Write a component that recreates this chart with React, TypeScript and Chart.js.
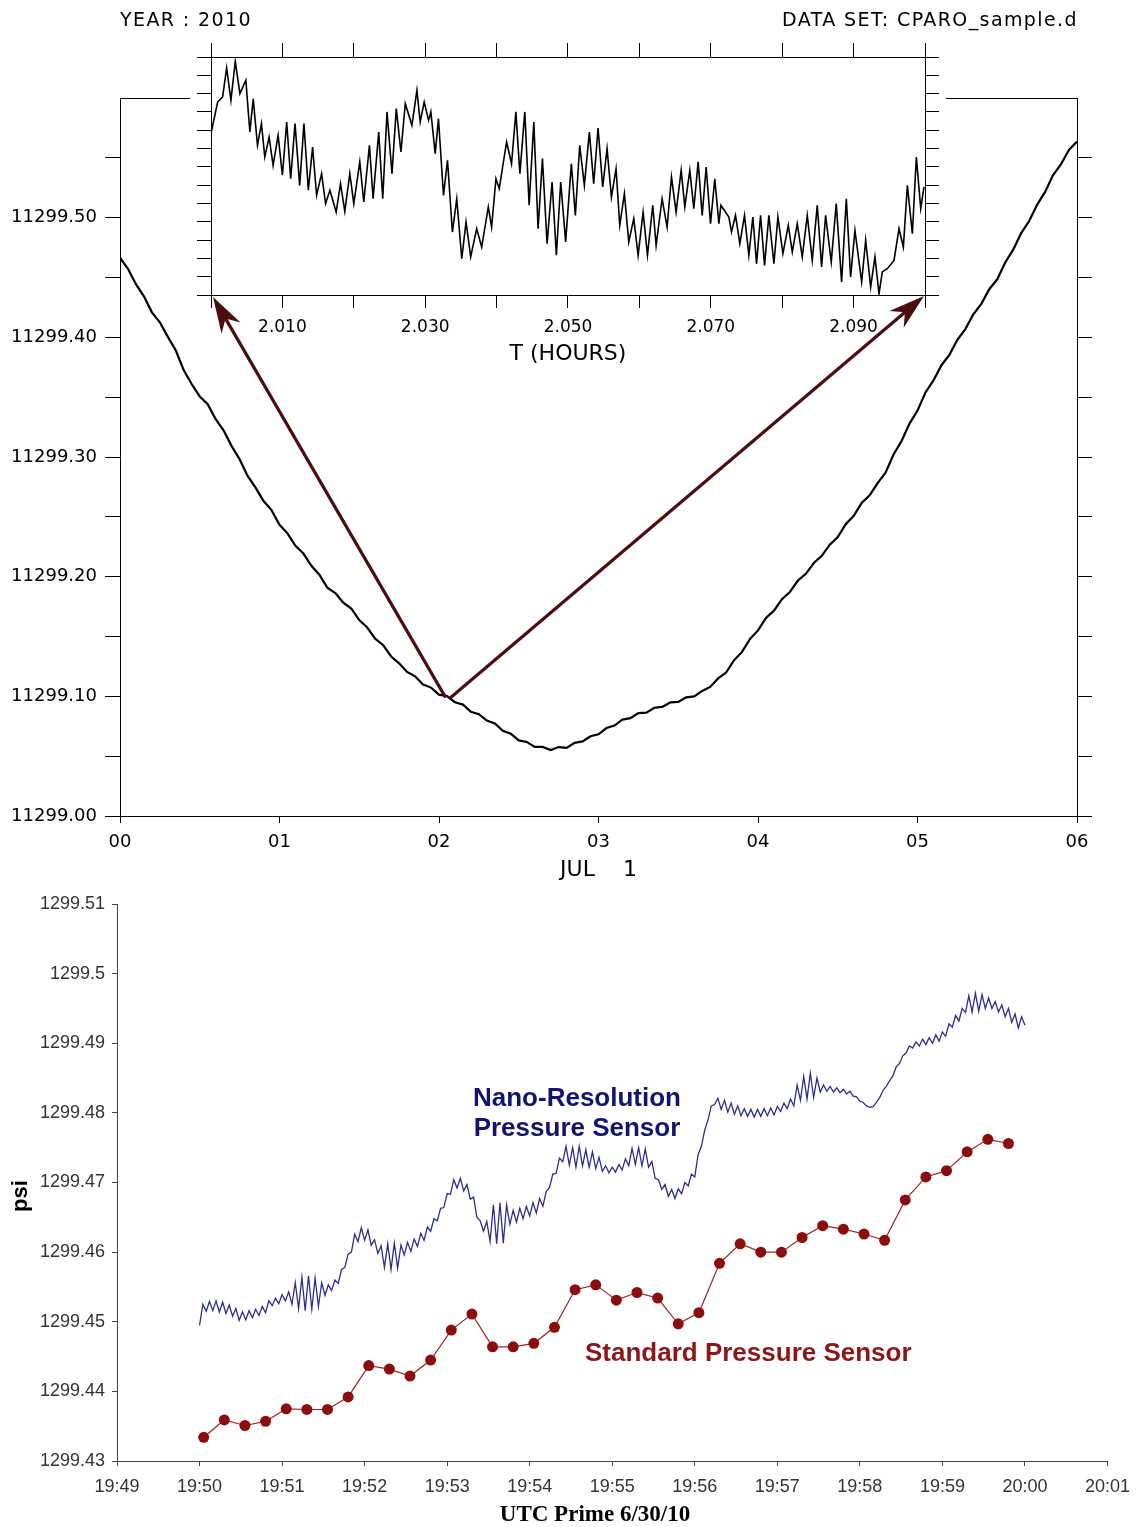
import React, { useEffect, useRef } from 'react';
import { Chart, registerables } from 'chart.js';

Chart.register(...registerables);

// ---------------- Top chart: pressure over 6 hours (JUL 1) ----------------
const MAIN_START_HOUR = 0;
const MAIN_STEP_HOURS = 0.05;
const mainValues = [
  11299.4665, 11299.4573, 11299.4444, 11299.4343, 11299.4209, 11299.4126, 11299.4004, 11299.3890, 11299.3724, 11299.3608,
  11299.3506, 11299.3441, 11299.3316, 11299.3221, 11299.3091, 11299.2982, 11299.2842, 11299.2744, 11299.2632, 11299.2556,
  11299.2434, 11299.2362, 11299.2258, 11299.2193, 11299.2091, 11299.2016, 11299.1908, 11299.1863, 11299.1783, 11299.1734,
  11299.1637, 11299.1575, 11299.1482, 11299.1427, 11299.1333, 11299.1276, 11299.1204, 11299.1167, 11299.1099, 11299.1073,
  11299.1014, 11299.1002, 11299.0951, 11299.0931, 11299.0871, 11299.0851, 11299.0798, 11299.0773, 11299.0712, 11299.0688,
  11299.0632, 11299.0619, 11299.0578, 11299.0577, 11299.0551, 11299.0576, 11299.0569, 11299.0611, 11299.0623, 11299.0666,
  11299.0683, 11299.0735, 11299.0756, 11299.0806, 11299.0818, 11299.0860, 11299.0864, 11299.0905, 11299.0912, 11299.0949,
  11299.0953, 11299.0992, 11299.0999, 11299.1045, 11299.1079, 11299.1150, 11299.1199, 11299.1302, 11299.1371, 11299.1480,
  11299.1551, 11299.1655, 11299.1716, 11299.1812, 11299.1872, 11299.1967, 11299.2024, 11299.2114, 11299.2174, 11299.2267,
  11299.2331, 11299.2439, 11299.2509, 11299.2616, 11299.2679, 11299.2782, 11299.2870, 11299.3021, 11299.3134, 11299.3279,
  11299.3388, 11299.3539, 11299.3640, 11299.3767, 11299.3854, 11299.3980, 11299.4069, 11299.4193, 11299.4280, 11299.4402,
  11299.4485, 11299.4626, 11299.4733, 11299.4871, 11299.4972, 11299.5108, 11299.5215, 11299.5356, 11299.5448, 11299.5567,
  11299.5636,
];
const mainHourLabels = ['00', '01', '02', '03', '04', '05', '06'];
const mainYTickLabels = ['11299.00', '', '11299.10', '', '11299.20', '', '11299.30', '', '11299.40', '', '11299.50', '', ''];
const MAIN_Y_MIN = 11299.0;
const MAIN_Y_MAX = 11299.6;
const MAIN_Y_STEP = 0.05;
const ARROW_ORIGIN_HOUR = 2.05;
const ARROW_ORIGIN_VALUE = 11299.1;

// ---------------- Inset: zoom 2.000 - 2.100 hours ----------------
const insetHours = [
  2.00000, 2.00093, 2.00163, 2.00219, 2.00279, 2.00340, 2.00405, 2.00488, 2.00544, 2.00591,
  2.00651, 2.00707, 2.00753, 2.00814, 2.00870, 2.00940, 2.01000, 2.01060, 2.01116, 2.01177,
  2.01242, 2.01302, 2.01363, 2.01423, 2.01479, 2.01549, 2.01605, 2.01665, 2.01753, 2.01814,
  2.01874, 2.01944, 2.02000, 2.02084, 2.02140, 2.02219, 2.02270, 2.02349, 2.02405, 2.02465,
  2.02535, 2.02595, 2.02660, 2.02721, 2.02814, 2.02884, 2.02930, 2.02986, 2.03047, 2.03079,
  2.03140, 2.03186, 2.03256, 2.03312, 2.03381, 2.03442, 2.03512, 2.03572, 2.03637, 2.03721,
  2.03791, 2.03884, 2.03930, 2.03991, 2.04037, 2.04140, 2.04209, 2.04270, 2.04326, 2.04395,
  2.04456, 2.04521, 2.04581, 2.04642, 2.04707, 2.04777, 2.04837, 2.04898, 2.04967,
  2.05047, 2.05103, 2.05164, 2.05229, 2.05299, 2.05360, 2.05421, 2.05486, 2.05547, 2.05608,
  2.05673, 2.05725, 2.05790, 2.05851, 2.05921, 2.05982, 2.06052, 2.06113, 2.06187, 2.06234,
  2.06318, 2.06388, 2.06449, 2.06514, 2.06585, 2.06636, 2.06706, 2.06762, 2.06823, 2.06879,
  2.06935, 2.06996, 2.07056, 2.07113, 2.07141, 2.07253, 2.07290, 2.07346, 2.07407, 2.07472,
  2.07533, 2.07589, 2.07641, 2.07697, 2.07753, 2.07813, 2.07884, 2.07940, 2.08010, 2.08085,
  2.08141, 2.08211, 2.08281, 2.08351, 2.08421, 2.08491, 2.08552, 2.08608, 2.08687, 2.08757,
  2.08832, 2.08898, 2.08958, 2.09019, 2.09113, 2.09169, 2.09239, 2.09299, 2.09356, 2.09402,
  2.09472, 2.09566, 2.09636, 2.09697, 2.09753, 2.09823, 2.09879, 2.09940, 2.09986,
];
const insetValues = [
  11299.10381, 11299.10554, 11299.10582, 11299.10740, 11299.10563, 11299.10776, 11299.10600, 11299.10673, 11299.10390, 11299.10572,
  11299.10318, 11299.10436, 11299.10254, 11299.10363, 11299.10208, 11299.10372, 11299.10154, 11299.10445, 11299.10135, 11299.10436,
  11299.10099, 11299.10436, 11299.10072, 11299.10308, 11299.10044, 11299.10163, 11299.09999, 11299.10072, 11299.09953, 11299.10108,
  11299.09957, 11299.10163, 11299.09999, 11299.10227, 11299.10008, 11299.10318, 11299.10026, 11299.10390, 11299.10026, 11299.10500,
  11299.10163, 11299.10518, 11299.10281, 11299.10545, 11299.10427, 11299.10618, 11299.10445, 11299.10554, 11299.10454, 11299.10500,
  11299.10272, 11299.10463, 11299.10044, 11299.10236, 11299.09844, 11299.10026, 11299.09699, 11299.09899, 11299.09708, 11299.09862,
  11299.09762, 11299.09981, 11299.09871, 11299.10135, 11299.10081, 11299.10336, 11299.10217, 11299.10500, 11299.10163, 11299.10500,
  11299.09990, 11299.10445, 11299.09862, 11299.10245, 11299.09780, 11299.10117, 11299.09717, 11299.10117, 11299.09790,
  11299.10217, 11299.09935, 11299.10318, 11299.10099, 11299.10390, 11299.10108, 11299.10412, 11299.10090, 11299.10299, 11299.10035,
  11299.10190, 11299.09881, 11299.10054, 11299.09790, 11299.09917, 11299.09717, 11299.09953, 11299.09717, 11299.09990, 11299.09771,
  11299.10026, 11299.09871, 11299.10145, 11299.09953, 11299.10181, 11299.09981, 11299.10181, 11299.09972, 11299.10227, 11299.09935,
  11299.10199, 11299.09890, 11299.10135, 11299.09890, 11299.09990, 11299.09926, 11299.09844, 11299.09935, 11299.09780, 11299.09935,
  11299.09717, 11299.09926, 11299.09671, 11299.09935, 11299.09662, 11299.09935, 11299.09671, 11299.09926, 11299.09726, 11299.09881,
  11299.09735, 11299.09890, 11299.09708, 11299.09935, 11299.09689, 11299.09990, 11299.09653, 11299.09935, 11299.09680, 11299.09999,
  11299.09571, 11299.10026, 11299.09598, 11299.09853, 11299.09571, 11299.09799, 11299.09544, 11299.09708, 11299.09507, 11299.09626,
  11299.09644, 11299.09689, 11299.09862, 11299.09762, 11299.10099, 11299.09835, 11299.10254, 11299.09972, 11299.10090,
];
const insetXTickLabels = ['', '2.010', '', '2.030', '', '2.050', '', '2.070', '', '2.090', ''];
const INSET_X_MIN = 2.0;
const INSET_X_MAX = 2.1;
const INSET_X_STEP = 0.01;
const INSET_Y_MIN = 11299.095;
const INSET_Y_MAX = 11299.108;
const INSET_Y_STEP = 0.001;

// ---------------- Bottom chart: 19:50 - 20:00 UTC ----------------
const NANO_START_MINUTE = 50; // minutes after 19:00
const NANO_STEP_MINUTES = 0.04;
const nanoValues = [
  1299.4495, 1299.4525, 1299.4515, 1299.4529, 1299.4516, 1299.4530, 1299.4514, 1299.4528, 1299.4512, 1299.4524,
  1299.4508, 1299.4519, 1299.4502, 1299.4514, 1299.4503, 1299.4516, 1299.4506, 1299.4518, 1299.4509, 1299.4522,
  1299.4513, 1299.4530, 1299.4523, 1299.4534, 1299.4526, 1299.4539, 1299.4530, 1299.4543, 1299.4525, 1299.4556,
  1299.4519, 1299.4564, 1299.4516, 1299.4566, 1299.4518, 1299.4563, 1299.4522, 1299.4556, 1299.4538, 1299.4553,
  1299.4545, 1299.4560, 1299.4555, 1299.4575, 1299.4578, 1299.4597, 1299.4600, 1299.4626, 1299.4615, 1299.4635,
  1299.4617, 1299.4632, 1299.4610, 1299.4618, 1299.4598, 1299.4609, 1299.4578, 1299.4612, 1299.4575, 1299.4613,
  1299.4577, 1299.4610, 1299.4596, 1299.4614, 1299.4601, 1299.4619, 1299.4608, 1299.4627, 1299.4617, 1299.4636,
  1299.4630, 1299.4648, 1299.4645, 1299.4663, 1299.4664, 1299.4684, 1299.4683, 1299.4704, 1299.4692, 1299.4706,
  1299.4688, 1299.4697, 1299.4676, 1299.4679, 1299.4650, 1299.4645, 1299.4630, 1299.4644, 1299.4615, 1299.4668,
  1299.4612, 1299.4671, 1299.4613, 1299.4668, 1299.4640, 1299.4660, 1299.4643, 1299.4663, 1299.4648, 1299.4666,
  1299.4652, 1299.4671, 1299.4656, 1299.4677, 1299.4666, 1299.4687, 1299.4693, 1299.4712, 1299.4713, 1299.4735,
  1299.4730, 1299.4752, 1299.4725, 1299.4750, 1299.4722, 1299.4752, 1299.4724, 1299.4747, 1299.4722, 1299.4744,
  1299.4720, 1299.4736, 1299.4716, 1299.4724, 1299.4714, 1299.4722, 1299.4715, 1299.4726, 1299.4718, 1299.4734,
  1299.4724, 1299.4749, 1299.4726, 1299.4750, 1299.4724, 1299.4748, 1299.4722, 1299.4730, 1299.4706, 1299.4704,
  1299.4690, 1299.4697, 1299.4680, 1299.4690, 1299.4677, 1299.4691, 1299.4684, 1299.4700, 1299.4695, 1299.4712,
  1299.4708, 1299.4740, 1299.4752, 1299.4775, 1299.4790, 1299.4810, 1299.4812, 1299.4821, 1299.4805, 1299.4818,
  1299.4801, 1299.4814, 1299.4798, 1299.4810, 1299.4796, 1299.4806, 1299.4795, 1299.4805, 1299.4794, 1299.4805,
  1299.4795, 1299.4806, 1299.4796, 1299.4807, 1299.4797, 1299.4809, 1299.4802, 1299.4814, 1299.4806, 1299.4820,
  1299.4810, 1299.4840, 1299.4818, 1299.4852, 1299.4820, 1299.4857, 1299.4822, 1299.4850, 1299.4830, 1299.4840,
  1299.4831, 1299.4838, 1299.4830, 1299.4836, 1299.4829, 1299.4834, 1299.4827, 1299.4831, 1299.4824, 1299.4823,
  1299.4817, 1299.4815, 1299.4810, 1299.4808, 1299.4809, 1299.4815, 1299.4822, 1299.4832, 1299.4838, 1299.4846,
  1299.4853, 1299.4866, 1299.4871, 1299.4882, 1299.4886, 1299.4896, 1299.4893, 1299.4902, 1299.4896, 1299.4906,
  1299.4898, 1299.4908, 1299.4900, 1299.4912, 1299.4903, 1299.4916, 1299.4910, 1299.4928, 1299.4923, 1299.4940,
  1299.4932, 1299.4950, 1299.4944, 1299.4968, 1299.4945, 1299.4972, 1299.4946, 1299.4970, 1299.4950, 1299.4965,
  1299.4950, 1299.4960, 1299.4945, 1299.4955, 1299.4938, 1299.4950, 1299.4930, 1299.4942, 1299.4922, 1299.4938,
  1299.4926,
];
const STANDARD_START_MINUTE = 50.05;
const STANDARD_STEP_MINUTES = 0.25;
const standardValues = [
  1299.4334, 1299.4359, 1299.4351, 1299.4357, 1299.4375, 1299.4374, 1299.4374, 1299.4392, 1299.4437, 1299.4432,
  1299.4422, 1299.4445, 1299.4488, 1299.4511, 1299.4464, 1299.4464, 1299.4469, 1299.4492, 1299.4546, 1299.4553,
  1299.4531, 1299.4542, 1299.4534, 1299.4497, 1299.4513, 1299.4584, 1299.4612, 1299.4600, 1299.4600, 1299.4621,
  1299.4638, 1299.4633, 1299.4626, 1299.4617, 1299.4675, 1299.4708, 1299.4717, 1299.4744, 1299.4762, 1299.4756,
];
const bottomXTickLabels = ['19:49', '19:50', '19:51', '19:52', '19:53', '19:54', '19:55', '19:56', '19:57', '19:58', '19:59', '20:00', '20:01'];
const bottomYTickLabels = ['1299.43', '1299.44', '1299.45', '1299.46', '1299.47', '1299.48', '1299.49', '1299.5', '1299.51'];
const BOTTOM_X_MIN = 49;
const BOTTOM_X_MAX = 61;
const BOTTOM_Y_MIN = 1299.43;
const BOTTOM_Y_MAX = 1299.51;
const BOTTOM_Y_STEP = 0.01;

// ---------------- layout ----------------
const PAGE_W = 1140;
const MAIN_H = 890;
const INSET_LEFT = 190;
const INSET_TOP = 30;
const INSET_W = 756;
const INSET_H = 342;
const BOTTOM_TOP = 886;
const BOTTOM_H = 641;
const FERRET_FONT = 'DejaVu Sans';
const ARROW_COLOR = '#4a0e0e';

const idx = (v: number, min: number, step: number) => Math.round((v - min) / step);

function drawArrow(ctx: CanvasRenderingContext2D, x0: number, y0: number, x1: number, y1: number) {
  const dx = x1 - x0;
  const dy = y1 - y0;
  const len = Math.hypot(dx, dy);
  const ux = dx / len;
  const uy = dy / len;
  const nx = -uy;
  const ny = ux;
  const headLen = 36;
  const headHalf = 11;
  const notch = 25;
  ctx.save();
  ctx.strokeStyle = ARROW_COLOR;
  ctx.fillStyle = ARROW_COLOR;
  ctx.lineWidth = 3.2;
  ctx.lineCap = 'round';
  ctx.beginPath();
  ctx.moveTo(x0, y0);
  ctx.lineTo(x1 - ux * notch, y1 - uy * notch);
  ctx.stroke();
  ctx.beginPath();
  ctx.moveTo(x1, y1);
  ctx.lineTo(x1 - ux * headLen + nx * headHalf, y1 - uy * headLen + ny * headHalf);
  ctx.lineTo(x1 - ux * notch, y1 - uy * notch);
  ctx.lineTo(x1 - ux * headLen - nx * headHalf, y1 - uy * headLen - ny * headHalf);
  ctx.closePath();
  ctx.fill();
  ctx.restore();
}

export default function App() {
  const mainRef = useRef<HTMLCanvasElement>(null);
  const insetRef = useRef<HTMLCanvasElement>(null);
  const overlayRef = useRef<HTMLCanvasElement>(null);
  const bottomRef = useRef<HTMLCanvasElement>(null);

  useEffect(() => {
    const black = '#000';
    const hideMax = (max: number) => (ctx: any) =>
      ctx.tick && ctx.tick.value >= max - 1e-9 ? 'rgba(0,0,0,0)' : black;

    const mainData = mainValues.map((v, i) => ({ x: MAIN_START_HOUR + i * MAIN_STEP_HOURS, y: v }));
    const main = new Chart(mainRef.current as HTMLCanvasElement, {
      type: 'line',
      data: {
        datasets: [
          { data: mainData, borderColor: '#000', borderWidth: 2.2, pointRadius: 0, tension: 0, fill: false },
        ],
      },
      options: {
        animation: false,
        responsive: false,
        events: [],
        layout: { padding: { left: 0, top: 98, right: 0, bottom: 0 } },
        plugins: { legend: { display: false }, tooltip: { enabled: false } },
        scales: {
          x: {
            type: 'linear',
            position: 'bottom',
            min: 0,
            max: 6,
            afterFit: (s: any) => { s.height = 74; },
            ticks: {
              stepSize: 1,
              autoSkip: false,
              maxRotation: 0,
              padding: 9,
              color: black,
              font: { family: FERRET_FONT, size: 18 },
              callback: (v: any) => mainHourLabels[idx(Number(v), 0, 1)] ?? '',
            },
            grid: { drawOnChartArea: false, drawTicks: true, tickLength: 7, color: black },
            border: { display: true, color: black, width: 1 },
            title: { display: true, text: 'JUL    1', color: black, font: { family: FERRET_FONT, size: 22 }, padding: { top: 0, bottom: 7 } },
          },
          xTop: {
            type: 'linear',
            position: 'top',
            min: 0,
            max: 6,
            afterFit: (s: any) => { s.height = 0; },
            ticks: { display: false },
            grid: { drawOnChartArea: false, drawTicks: false },
            border: { display: true, color: black, width: 1 },
          },
          y: {
            type: 'linear',
            position: 'left',
            min: MAIN_Y_MIN,
            max: MAIN_Y_MAX,
            afterFit: (s: any) => { s.width = 120; },
            ticks: {
              stepSize: MAIN_Y_STEP,
              autoSkip: false,
              padding: 8,
              color: black,
              font: { family: FERRET_FONT, size: 18 },
              callback: (v: any) => mainYTickLabels[idx(Number(v), MAIN_Y_MIN, MAIN_Y_STEP)] ?? '',
            },
            grid: { drawOnChartArea: false, drawTicks: true, tickLength: 15, color: hideMax(MAIN_Y_MAX) },
            border: { display: true, color: black, width: 1 },
          },
          yRight: {
            type: 'linear',
            position: 'right',
            min: MAIN_Y_MIN,
            max: MAIN_Y_MAX,
            afterFit: (s: any) => { s.width = 63; },
            ticks: { stepSize: MAIN_Y_STEP, autoSkip: false, callback: () => '' },
            grid: { drawOnChartArea: false, drawTicks: true, tickLength: 15, color: hideMax(MAIN_Y_MAX) },
            border: { display: true, color: black, width: 1 },
          },
        },
      },
    } as any);

    const insetData = insetValues.map((v, i) => ({ x: insetHours[i], y: v }));
    const whiteBox = {
      id: 'whiteBox',
      beforeDraw(chart: any) {
        const c = chart.ctx;
        c.save();
        c.fillStyle = '#fff';
        c.fillRect(0, 0, chart.width, chart.chartArea.bottom + 14);
        c.restore();
      },
    };
    const inset = new Chart(insetRef.current as HTMLCanvasElement, {
      type: 'line',
      data: {
        datasets: [
          { data: insetData, borderColor: '#000', borderWidth: 1.6, pointRadius: 0, tension: 0, fill: false },
        ],
      },
      options: {
        animation: false,
        responsive: false,
        events: [],
        layout: { padding: 0 },
        plugins: { legend: { display: false }, tooltip: { enabled: false } },
        scales: {
          x: {
            type: 'linear',
            position: 'bottom',
            min: INSET_X_MIN,
            max: INSET_X_MAX,
            afterFit: (s: any) => { s.height = 77; },
            ticks: {
              stepSize: INSET_X_STEP,
              autoSkip: false,
              maxRotation: 0,
              padding: 9,
              color: black,
              font: { family: FERRET_FONT, size: 17 },
              callback: (v: any) => insetXTickLabels[idx(Number(v), INSET_X_MIN, INSET_X_STEP)] ?? '',
            },
            grid: { drawOnChartArea: false, drawTicks: true, tickLength: 13, color: black },
            border: { display: true, color: black, width: 1 },
            title: { display: true, text: 'T (HOURS)', color: black, font: { family: FERRET_FONT, size: 22 }, padding: { top: 0, bottom: 5 } },
          },
          xTop: {
            type: 'linear',
            position: 'top',
            min: INSET_X_MIN,
            max: INSET_X_MAX,
            afterFit: (s: any) => { s.height = 27; },
            ticks: { stepSize: INSET_X_STEP, autoSkip: false, maxRotation: 0, callback: () => '' },
            grid: { drawOnChartArea: false, drawTicks: true, tickLength: 14, color: black },
            border: { display: true, color: black, width: 1 },
          },
          y: {
            type: 'linear',
            position: 'left',
            min: INSET_Y_MIN,
            max: INSET_Y_MAX,
            afterFit: (s: any) => { s.width = 21; },
            ticks: { stepSize: INSET_Y_STEP, autoSkip: false, callback: () => '' },
            grid: { drawOnChartArea: false, drawTicks: true, tickLength: 14, color: black },
            border: { display: true, color: black, width: 1 },
          },
          yRight: {
            type: 'linear',
            position: 'right',
            min: INSET_Y_MIN,
            max: INSET_Y_MAX,
            afterFit: (s: any) => { s.width = 21; },
            ticks: { stepSize: INSET_Y_STEP, autoSkip: false, callback: () => '' },
            grid: { drawOnChartArea: false, drawTicks: true, tickLength: 14, color: black },
            border: { display: true, color: black, width: 1 },
          },
        },
      },
      plugins: [whiteBox],
    } as any);

    // arrows from the curve to the inset corners
    const ov = overlayRef.current as HTMLCanvasElement;
    const octx = ov.getContext('2d') as CanvasRenderingContext2D;
    octx.clearRect(0, 0, ov.width, ov.height);
    const sx = main.scales.x.getPixelForValue(ARROW_ORIGIN_HOUR);
    const sy = main.scales.y.getPixelForValue(ARROW_ORIGIN_VALUE);
    const ia = inset.chartArea;
    drawArrow(octx, sx - 2, sy, INSET_LEFT + ia.left + 2, INSET_TOP + ia.bottom + 2);
    drawArrow(octx, sx + 4, sy + 1, INSET_LEFT + ia.right - 1, INSET_TOP + ia.bottom + 1);

    const gray = '#333';
    const axisGray = '#444';
    const nanoData = nanoValues.map((v, i) => ({ x: NANO_START_MINUTE + i * NANO_STEP_MINUTES, y: v }));
    const standardData = standardValues.map((v, i) => ({ x: STANDARD_START_MINUTE + i * STANDARD_STEP_MINUTES, y: v }));
    const bottom = new Chart(bottomRef.current as HTMLCanvasElement, {
      type: 'line',
      data: {
        datasets: [
          { label: 'Nano-Resolution Pressure Sensor', data: nanoData, borderColor: '#2e2e8e', borderWidth: 1.3, pointRadius: 0, tension: 0, fill: false },
          {
            label: 'Standard Pressure Sensor',
            data: standardData,
            borderColor: '#a02424',
            borderWidth: 1.2,
            pointRadius: 5.5,
            pointBackgroundColor: '#8b0e0e',
            pointBorderColor: '#8b0e0e',
            pointBorderWidth: 0,
            tension: 0,
            fill: false,
          },
        ],
      },
      options: {
        animation: false,
        responsive: false,
        events: [],
        layout: { padding: { left: 0, top: 18, right: 27, bottom: 0 } },
        plugins: { legend: { display: false }, tooltip: { enabled: false } },
        scales: {
          x: {
            type: 'linear',
            position: 'bottom',
            min: BOTTOM_X_MIN,
            max: BOTTOM_X_MAX,
            afterFit: (s: any) => { s.height = 66; },
            ticks: {
              stepSize: 1,
              autoSkip: false,
              maxRotation: 0,
              padding: 10,
              color: gray,
              font: { family: 'Liberation Sans', size: 18 },
              callback: (v: any) => bottomXTickLabels[idx(Number(v), BOTTOM_X_MIN, 1)] ?? '',
            },
            grid: { drawOnChartArea: false, drawTicks: true, tickLength: 5, color: axisGray },
            border: { display: true, color: axisGray, width: 1 },
          },
          y: {
            type: 'linear',
            position: 'left',
            min: BOTTOM_Y_MIN,
            max: BOTTOM_Y_MAX,
            afterFit: (s: any) => { s.width = 117; },
            ticks: {
              stepSize: BOTTOM_Y_STEP,
              autoSkip: false,
              padding: 7,
              color: gray,
              font: { family: 'Liberation Sans', size: 18 },
              callback: (v: any) => bottomYTickLabels[idx(Number(v), BOTTOM_Y_MIN, BOTTOM_Y_STEP)] ?? '',
            },
            grid: { drawOnChartArea: false, drawTicks: true, tickLength: 5, color: axisGray },
            border: { display: true, color: axisGray, width: 1 },
          },
        },
      },
    } as any);

    return () => {
      main.destroy();
      inset.destroy();
      bottom.destroy();
    };
  }, []);

  const ferretText: React.CSSProperties = {
    position: 'absolute',
    fontFamily: FERRET_FONT,
    fontSize: 19,
    lineHeight: '22px',
    letterSpacing: '1.4px',
    color: '#000',
    whiteSpace: 'pre',
  };

  return (
    <div style={{ position: 'absolute', left: 0, top: 0, width: PAGE_W, height: 1527, background: '#fff', overflow: 'hidden' }}>
      <canvas ref={mainRef} width={PAGE_W} height={MAIN_H} style={{ position: 'absolute', left: 0, top: 0 }} />
      <canvas ref={bottomRef} width={PAGE_W} height={BOTTOM_H} style={{ position: 'absolute', left: 0, top: BOTTOM_TOP }} />
      <canvas ref={insetRef} width={INSET_W} height={INSET_H} style={{ position: 'absolute', left: INSET_LEFT, top: INSET_TOP }} />
      <canvas ref={overlayRef} width={PAGE_W} height={MAIN_H} style={{ position: 'absolute', left: 0, top: 0, pointerEvents: 'none' }} />

      <div style={{ ...ferretText, left: 120, top: 8 }}>YEAR : 2010</div>
      <div style={{ ...ferretText, right: PAGE_W - 1078, top: 8 }}>DATA SET: CPARO_sample.d</div>

      <div
        style={{
          position: 'absolute',
          left: 20 - 30,
          top: 1196 - 15,
          width: 60,
          height: 30,
          lineHeight: '30px',
          textAlign: 'center',
          transform: 'rotate(-90deg)',
          fontFamily: 'Liberation Sans',
          fontWeight: 'bold',
          fontSize: 22,
          color: '#000',
        }}
      >
        psi
      </div>

      <div
        style={{
          position: 'absolute',
          left: 595 - 150,
          top: 1514 - 14,
          width: 300,
          textAlign: 'center',
          fontFamily: 'Liberation Serif',
          fontWeight: 'bold',
          fontSize: 23,
          lineHeight: '28px',
          color: '#000',
          whiteSpace: 'nowrap',
        }}
      >
        UTC Prime 6/30/10
      </div>

      <div
        style={{
          position: 'absolute',
          left: 577 - 160,
          top: 1082,
          width: 320,
          textAlign: 'center',
          fontFamily: 'Liberation Sans',
          fontWeight: 'bold',
          fontSize: 26,
          lineHeight: '30px',
          color: '#14146c',
        }}
      >
        Nano-Resolution
        <br />
        Pressure Sensor
      </div>
      <div
        style={{
          position: 'absolute',
          left: 585,
          top: 1352 - 15,
          fontFamily: 'Liberation Sans',
          fontWeight: 'bold',
          fontSize: 26,
          lineHeight: '30px',
          color: '#8b1818',
          whiteSpace: 'nowrap',
        }}
      >
        Standard Pressure Sensor
      </div>
    </div>
  );
}
